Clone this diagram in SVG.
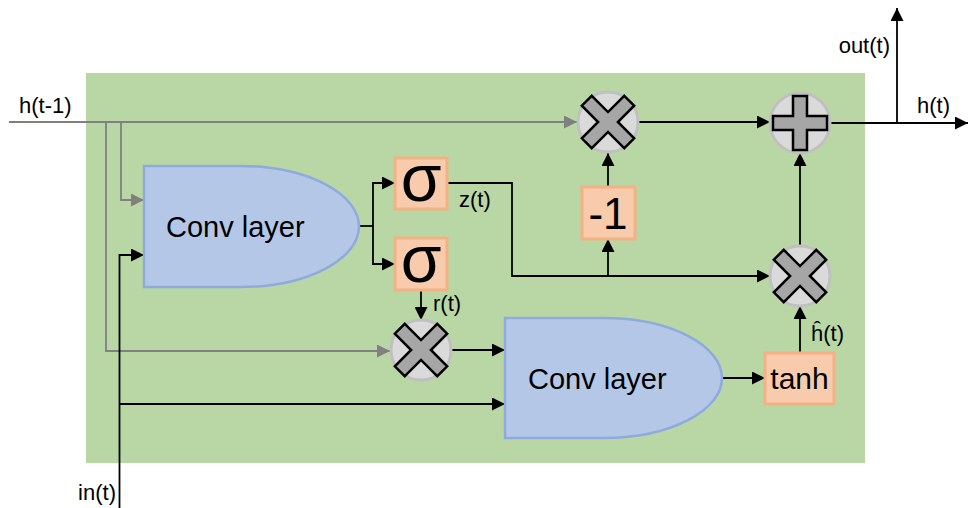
<svg xmlns="http://www.w3.org/2000/svg" width="968" height="508" viewBox="0 0 968 508">
<style>
text{font-family:"Liberation Sans",Arial,sans-serif;fill:#000}
.lbl{font-size:22px}
.conv{fill:#B4C7E7;stroke:#8FAADC;stroke-width:2.5}
.box{fill:#F8CBAD;stroke:#F4B183;stroke-width:3}
.op{fill:#DADADA;stroke:#C0C0C0;stroke-width:3}
.glyph{fill:#A6A6A6;stroke:#000;stroke-width:2.5;stroke-linejoin:miter}
.k{fill:none;stroke:#000;stroke-width:1.8}
.g{fill:none;stroke:#808080;stroke-width:1.8}
.ka{marker-end:url(#ak)}
.ga{marker-end:url(#ag)}
</style>
<defs>
<marker id="ak" viewBox="0 0 10 10" refX="10" refY="5" markerUnits="userSpaceOnUse" markerWidth="15" markerHeight="13" orient="auto"><path d="M0,0 L10,5 L0,10 z" fill="#000"/></marker>
<marker id="ag" viewBox="0 0 10 10" refX="10" refY="5" markerUnits="userSpaceOnUse" markerWidth="15" markerHeight="13" orient="auto"><path d="M0,0 L10,5 L0,10 z" fill="#808080"/></marker>
<polygon id="plus" points="-7,-27 7,-27 7,-7 27,-7 27,7 7,7 7,27 -7,27 -7,7 -27,7 -27,-7 -7,-7"/>
<polygon id="times" points="-7,-30 7,-30 7,-7 30,-7 30,7 7,7 7,30 -7,30 -7,7 -30,7 -30,-7 -7,-7" transform="rotate(45)"/>
</defs>
<rect id="background" x="86" y="73" width="779" height="390" fill="#B9D7A5"/>

<g id="connectors">
<path class="g ga" d="M9,122 H577"/>
<path class="g ga" d="M106,122 V351 H390"/>
<path class="g ga" d="M121,122 V200 H144"/>
<path class="k ka" d="M119.5,508 V255 H144"/>
<path class="k ka" d="M119.5,404 H505"/>
<path class="k" d="M359,226 H373"/>
<path class="k ka" d="M373,226 V183 H395"/>
<path class="k ka" d="M373,226 V264 H395"/>
<path class="k ka" d="M447,183 H512 V276 H770"/>
<path class="k ka" d="M608,276 V239"/>
<path class="k ka" d="M608,187 V153"/>
<path class="k ka" d="M639,122 H770"/>
<path class="k ka" d="M800,246 V153"/>
<path class="k ka" d="M830,123 H968"/>
<path class="k ka" d="M897,123 V8"/>
<path class="k ka" d="M421,290 V320"/>
<path class="k ka" d="M452,350 H505"/>
<path class="k ka" d="M722,378 H765"/>
<path class="k ka" d="M800,353 V306"/>
</g>

<g id="labels">
<text class="lbl" x="19" y="113">h(t-1)</text>
<text class="lbl" x="116" y="500" text-anchor="end">in(t)</text>
<text class="lbl" x="459" y="207">z(t)</text>
<text class="lbl" x="433" y="311">r(t)</text>
<text class="lbl" x="811" y="341">ĥ(t)</text>
<text class="lbl" x="890" y="53" text-anchor="end">out(t)</text>
<text class="lbl" x="917" y="113">h(t)</text>
</g>

<g id="conv1">
<path class="conv" d="M144,166 H240 A119,60.5 0 0 1 240,287 H144 Z"/>
<text x="166" y="237" font-size="29">Conv layer</text>
</g>
<g id="conv2">
<path class="conv" d="M505,318 H604 A118,60 0 0 1 604,438 H505 Z"/>
<text x="528" y="389" font-size="29">Conv layer</text>
</g>
<g id="sigma1">
<rect class="box" x="395" y="158" width="52" height="51"/>
<text x="421" y="201" font-size="66" text-anchor="middle">σ</text>
</g>
<g id="sigma2">
<rect class="box" x="395" y="238" width="52" height="52"/>
<text x="421" y="282" font-size="66" text-anchor="middle">σ</text>
</g>
<g id="neg1">
<rect class="box" x="582" y="187" width="53" height="52"/>
<text x="608" y="229" font-size="44" text-anchor="middle">-1</text>
</g>
<g id="tanh">
<rect class="box" x="765" y="353" width="69" height="51"/>
<text x="799.5" y="389" font-size="30" text-anchor="middle">tanh</text>
</g>
<g id="mul_top" transform="translate(608,122)">
<circle class="op" r="30"/>
<use href="#times" class="glyph"/>
</g>
<g id="add" transform="translate(800,123)">
<circle class="op" r="30"/>
<use href="#plus" class="glyph"/>
</g>
<g id="mul_right" transform="translate(800,276)">
<circle class="op" r="30"/>
<use href="#times" class="glyph"/>
</g>
<g id="mul_reset" transform="translate(421,350)">
<circle class="op" r="30"/>
<use href="#times" class="glyph"/>
</g>
</svg>
